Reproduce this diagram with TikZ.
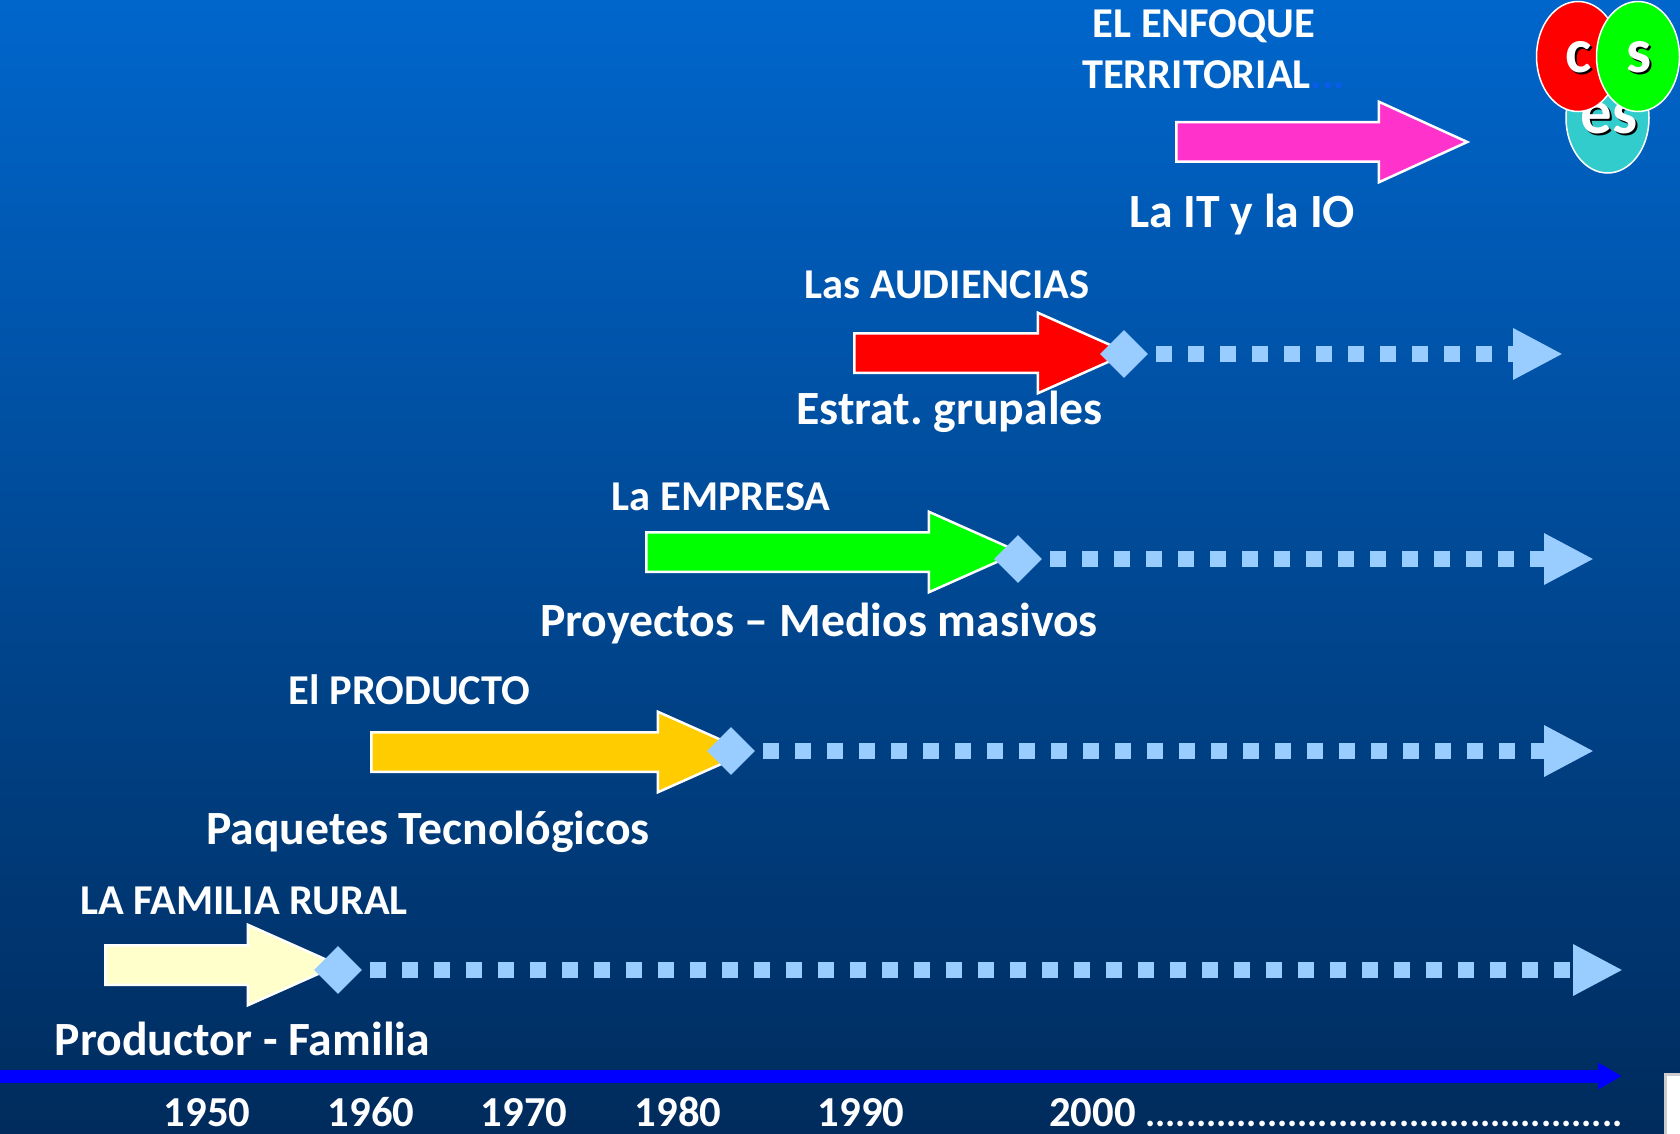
\documentclass[tikz,border=0pt]{standalone}
\usepackage{fontspec}
\setmainfont{Carlito}
\frenchspacing
\usetikzlibrary{shapes.geometric,shapes.arrows,arrows.meta}
\definecolor{bgtop}{HTML}{0066CC}
\definecolor{bgbot}{HTML}{002B5C}
\definecolor{dotblue}{HTML}{99CCFF}
\definecolor{pale}{HTML}{FFFFCC}
\definecolor{amber}{HTML}{FFCC00}
\definecolor{pinkish}{HTML}{FF33CC}
\definecolor{tealish}{HTML}{33CCCC}
\definecolor{hidedots}{HTML}{0A5CEB}
\newcommand{\shadowed}[1]{\makebox[0pt][l]{\raisebox{-2pt}{\hspace{2pt}\color{black}#1}}#1}
\tikzset{
  bigtxt/.style={text=white,anchor=base,inner sep=0,font=\bfseries\fontsize{47.7}{54}\selectfont},
  smalltxt/.style={text=white,anchor=base,inner sep=0,font=\bfseries\fontsize{42.5}{48}\selectfont},
  yeartxt/.style={text=white,anchor=base,inner sep=0,font=\bfseries\fontsize{42.7}{48}\selectfont},
  ringtxt/.style={text=white,inner sep=0,font=\bfseries\fontsize{63}{69}\selectfont},
  bigarrow/.style={shape=single arrow,draw=white,line width=2.5pt,anchor=tail,inner xsep=0,inner ysep=18.5pt,
    single arrow head extend=20.5pt,single arrow tip angle=48,shape border rotate=0},
  marker/.style={shape=diamond,fill=dotblue,inner sep=0,minimum width=48pt,minimum height=48pt},
  dotline/.style={draw=dotblue,line width=16pt,dash pattern=on 16pt off 16pt,
    -{Triangle[length=50pt,width=48pt,fill=dotblue]}},
  timeline/.style={draw=blue,line width=13pt,-{Triangle[length=24pt,width=25pt,fill=blue]}},
  ring/.style={shape=ellipse,draw=white,line width=1.5pt,inner sep=0,minimum width=83pt,minimum height=110pt}
}
\begin{document}
\begin{tikzpicture}[x=1pt,y=-1pt]
\useasboundingbox (0,0) rectangle (1680,1134);
\shade[top color=bgtop,bottom color=bgbot,middle color=bgtop!50!bgbot] (0,0) rectangle (1680,1134);
% Arrows for each period
\node[bigarrow,fill=pale,minimum height=233pt] (fam) at (104,965) {};
\node[bigarrow,fill=amber,minimum height=377pt] (prod) at (370,752) {};
\node[bigarrow,fill=green,minimum height=373pt] (emp) at (645,552) {};
\node[bigarrow,fill=red,minimum height=274pt] (aud) at (853,353) {};
\node[bigarrow,fill=pinkish,minimum height=291pt,single arrow tip angle=49] (terr) at (1175,142) {};
% Markers and dotted continuation
\foreach \nm/\xp/\yp/\ex in {a/338/970/1623,b/731/751/1594,c/1018/559/1594,d/1124/354/1563}
{
    \node[marker] (m\nm) at (\xp,\yp) {};
    \coordinate (e\nm) at (\ex,\yp);
    \draw[dotline] ([xshift=8]m\nm.east) -- (e\nm);
}
% Labels
\node[smalltxt] (t1) at (1204,38) {EL ENFOQUE};
\node[smalltxt,anchor=base west] (t2) at (1082,89) {TERRITORIAL{\color{hidedots}...}};
\node[bigtxt] (t3) at (1242,227.5) {La IT y la IO};
\node[smalltxt] (t4) at (947,298.5) {Las AUDIENCIAS};
\node[bigtxt] (t5) at (949.5,424.5) {Estrat. grupales};
\node[smalltxt] (t6) at (721,510.5) {La EMPRESA};
\node[bigtxt] (t7) at (819,636) {Proyectos – Medios masivos};
\node[smalltxt] (t8) at (409.5,704.5) {El PRODUCTO};
\node[bigtxt] (t9) at (428,844) {Paquetes Tecnológicos};
\node[smalltxt] (t10) at (244,914.5) {LA FAMILIA RURAL};
\node[bigtxt] (t11) at (242.5,1055) {Productor - Familia};
% Circles top right
\node[ring,fill=tealish] (res) at (1607.5,118) {};
\node[ringtxt] (tes) at (1609,119) {\shadowed{es}};
\node[ring,fill=red] (rc) at (1578,56.5) {};
\node[ringtxt] (tc) at (1579,58) {\shadowed{c}};
\node[ring,fill=green] (rs) at (1638,56.5) {};
\node[ringtxt] (ts) at (1639,58) {\shadowed{s}};
% Time axis
\coordinate (ax0) at (0,1076);
\coordinate (ax1) at (1622,1076);
\draw[timeline] (ax0) -- (ax1);
\foreach \yr/\xp in {1950/207,1960/371,1970/524,1980/678,1990/861}
{
    \node[yeartxt] (y\yr) at (\xp,1126) {\yr};
}
\node[yeartxt,anchor=base west] (y2000) at (1049,1126) {2000 {\fontsize{38}{44}\selectfont ...............................................}};
% Corner piece
\draw[fill=white,draw=black!20,line width=3pt] (1665,1074) rectangle (1690,1140);
\end{tikzpicture}
\end{document}
